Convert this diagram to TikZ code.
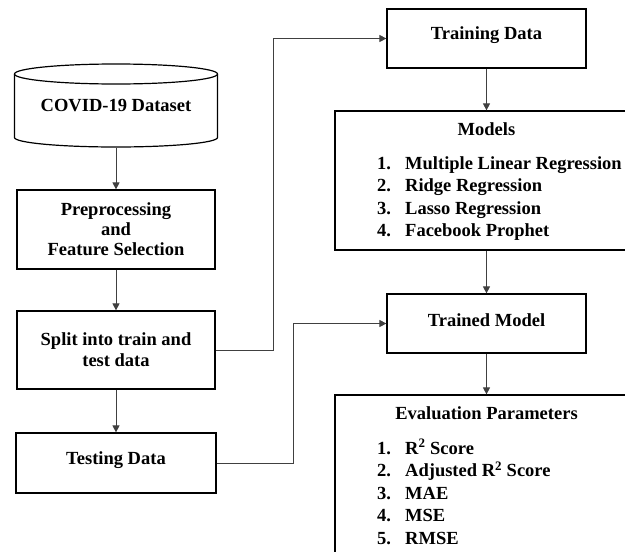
\documentclass[tikz,border=0pt]{standalone}
\usepackage{fontspec}
\setmainfont{Liberation Serif}
\usetikzlibrary{arrows.meta,calc}

\tikzset{
  txt/.style={font=\bfseries\fontsize{18.5}{21}\selectfont, text=black},
  box/.style={txt, draw=black, line width=1.2pt, align=center, inner sep=0pt},
  lbl/.style={txt, inner sep=0pt, yshift=3pt},
  conn/.style={draw=black!75, line width=0.9pt},
  arr/.style={conn, -{Triangle[length=7pt,width=7pt]}},
  item/.style={txt, anchor=base west, inner sep=0pt},
  num/.style={txt, anchor=base west, inner sep=0pt},
}

\begin{document}
\begin{tikzpicture}[x=1pt,y=-1pt]
  \useasboundingbox (0,0) rectangle (625,552);
  \clip (0,0) rectangle (625,552);

  % dataset cylinder
  \draw[line width=1.2pt, fill=white]
    (14.5,74) -- (14.5,137.5) arc[start angle=180, end angle=360, x radius=101.5, y radius=-9.5]
    -- (217.5,74);
  \draw[line width=1.2pt] (116,74) ellipse[x radius=101.5, y radius=10];
  \node[txt, minimum width=203pt, minimum height=84pt, inner sep=0pt] (data) at (116,105.5) {COVID-19 Dataset};

  % left column
  \node[box, minimum width=198pt, minimum height=79pt] (prep) at (116,229.5)
    {Preprocessing\\[-1pt] and\\[-1pt] Feature Selection};
  \node[box, minimum width=198pt, minimum height=78pt] (split) at (116,350)
    {Split into train and\\ test data};
  \node[box, minimum width=200pt, minimum height=60pt] (test) at (116,463) {};
  \node[lbl] (test-t) at (test.center) {Testing Data};

  % right column
  \node[box, minimum width=199pt, minimum height=59pt] (train) at (486.5,38.5) {};
  \node[lbl] (train-t) at (train.center) {Training Data};
  \node[box, minimum width=303pt, minimum height=139pt] (models) at (486.5,180.5) {};
  \node[box, minimum width=199pt, minimum height=59pt] (trained) at (486.5,323.5) {};
  \node[lbl] (trained-t) at (trained.center) {Trained Model};
  \node[box, minimum width=303pt, minimum height=180pt] (eval) at (486.5,485) {};

  % model list
  \node[txt, anchor=base, inner sep=0pt] (mt) at (486.5,135) {Models};
  \node[num] (mn1) at (377,169) {1.};
  \node[item] (m1) at (405,169) {Multiple Linear Regression};
  \node[num] (mn2) at (377,191.5) {2.};
  \node[item] (m2) at (405,191.5) {Ridge Regression};
  \node[num] (mn3) at (377,214) {3.};
  \node[item] (m3) at (405,214) {Lasso Regression};
  \node[num] (mn4) at (377,236.5) {4.};
  \node[item] (m4) at (405,236.5) {Facebook Prophet};

  % evaluation list
  \node[txt, anchor=base, inner sep=0pt] (et) at (486.5,419) {Evaluation Parameters};
  \node[num] (en1) at (377,454) {1.};
  \node[item] (e1) at (405,454) {R\textsuperscript{2} Score};
  \node[num] (en2) at (377,476.5) {2.};
  \node[item] (e2) at (405,476.5) {Adjusted R\textsuperscript{2} Score};
  \node[num] (en3) at (377,499) {3.};
  \node[item] (e3) at (405,499) {MAE};
  \node[num] (en4) at (377,521.5) {4.};
  \node[item] (e4) at (405,521.5) {MSE};
  \node[num] (en5) at (377,544) {5.};
  \node[item] (e5) at (405,544) {RMSE};

  % routing columns for the elbow connectors
  \coordinate (j1) at (273,0);
  \coordinate (j2) at (293,0);

  % connectors
  \draw[arr] (data.south) -- (prep.north);
  \draw[arr] (prep.south) -- (split.north);
  \draw[arr] (split.south) -- (test.north);
  \draw[arr] (split.east) -- (split.east -| j1) -- (j1 |- train.west) -- (train.west);
  \draw[arr] (test.east) -- (test.east -| j2) -- (j2 |- trained.west) -- (trained.west);
  \draw[arr] (train.south) -- (models.north);
  \draw[arr] (models.south) -- (trained.north);
  \draw[arr] (trained.south) -- (eval.north);
\end{tikzpicture}
\end{document}
